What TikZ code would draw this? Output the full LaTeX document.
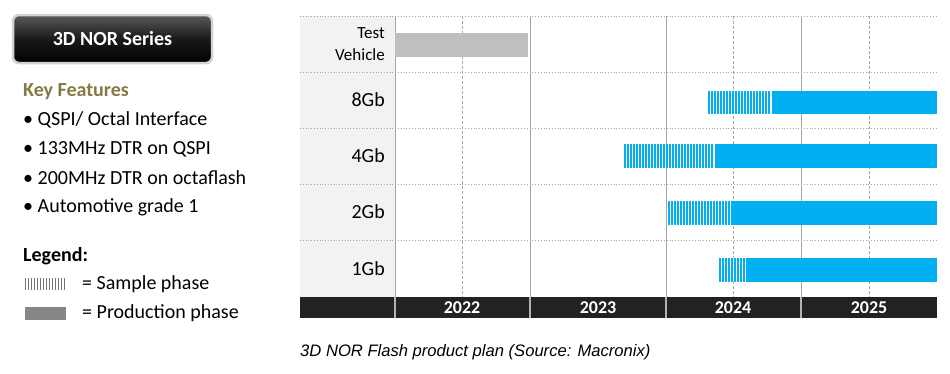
\documentclass[tikz,border=0pt]{standalone}
\usepackage{fontspec}
\setmainfont{Carlito}
\newfontfamily\capfont{Liberation Sans}
\definecolor{nblue}{HTML}{00B0F0}
\definecolor{keyol}{HTML}{857A45}
\definecolor{gridg}{HTML}{A6A6A6}
\definecolor{labbg}{HTML}{F2F2F2}
\definecolor{barblk}{HTML}{222222}
\tikzset{
  gridh/.style={draw=gridg, line width=0.8pt, dotted},
  gridv/.style={draw=gridg, line width=1pt},
  gridd/.style={draw=gridg, line width=0.7pt, dash pattern=on 3pt off 2pt},
  rowlab/.style={anchor=east, font=\fontsize{20}{22}\selectfont, inner sep=0pt},
  yearlab/.style={font=\bfseries\fontsize{18}{20}\selectfont, text=white, inner sep=0pt},
  feat/.style={anchor=west, font=\fontsize{20}{22}\selectfont, inner sep=0pt},
  prodbar/.style={fill=nblue, draw=none},
}
\newcommand{\samplebar}[4]{%
  \fill[white] (#1,#3) rectangle (#2,#4);
  \foreach \xx in {#1,\the\numexpr#1+3\relax,...,#2}{%
    \draw[nblue, line width=1.7pt] (\xx+0.85,#3) -- (\xx+0.85,#4);
  }%
}
\begin{document}
\begin{tikzpicture}[x=1pt,y=-1pt]
\useasboundingbox (0,0) rectangle (950,373);
% ---------- left panel ----------
\node[draw=gray!35, line width=2.5pt, rounded corners=6pt, top color=black!65, bottom color=black, middle color=black!90,
      minimum width=199pt, minimum height=48pt, inner sep=0pt] (title) at (112.5,39)
      {\textcolor{white}{\bfseries\fontsize{20}{22}\selectfont 3D NOR Series}};
\node[anchor=west, inner sep=0pt, text=keyol, font=\bfseries\fontsize{20}{22}\selectfont] (kf) at (23,92) {Key Features};
\node[feat] (f1) at (23,120) {\textbullet\ QSPI/ Octal Interface};
\node[feat] (f2) at (23,149) {\textbullet\ 133MHz DTR on QSPI};
\node[feat] (f3) at (23,178) {\textbullet\ 200MHz DTR on octaflash};
\node[feat] (f4) at (23,207) {\textbullet\ Automotive grade 1};
\node[anchor=west, inner sep=0pt, font=\bfseries\fontsize{20}{22}\selectfont] (leg) at (23,256) {Legend:};
\foreach \xx in {25,28,...,66}{\draw[gray!90!black, line width=0.9pt] (\xx,278) -- (\xx,290);}
\node[feat] (ls) at (82,284) {= Sample phase};
\fill[gray!95] (25,307) rectangle (66,320);
\node[feat] (lp) at (82,313.5) {= Production phase};
% ---------- chart ----------
\fill[labbg] (300,16) rectangle (395,297);
\foreach \yy in {16,72,128,184,240}{\draw[gridh] (300,\yy) -- (937,\yy);}
\foreach \xx in {462,733,869}{\draw[gridd] (\xx,16) -- (\xx,297);}
\foreach \xx in {395,530,666,801}{\draw[gridv] (\xx,16) -- (\xx,297);}
% bars
\fill[gray!50] (395,33) rectangle (528,57);
\samplebar{708}{770}{91}{114}
\fill[prodbar] (772,91) rectangle (937,114);
\samplebar{624}{713}{144}{168}
\fill[prodbar] (715,144) rectangle (937,168);
\samplebar{668}{729}{201}{225}
\fill[prodbar] (731,201) rectangle (937,225);
\samplebar{719}{746}{258}{282}
\fill[prodbar] (748,258) rectangle (937,282);
% row labels
\node[rowlab, align=right, font=\fontsize{17}{22}\selectfont] (tv) at (385,44) {Test\\Vehicle};
\node[rowlab] (r8) at (385,100) {8Gb};
\node[rowlab] (r4) at (385,156) {4Gb};
\node[rowlab] (r2) at (385,212) {2Gb};
\node[rowlab] (r1) at (385,269) {1Gb};
% year bar
\fill[barblk] (300,297) rectangle (937,318);
\foreach \xx in {395,530,666,801}{\draw[gray!60, line width=1.2pt] (\xx,297) -- (\xx,318);}
\node[yearlab] (y22) at (462,308) {2022};
\node[yearlab] (y23) at (598,308) {2023};
\node[yearlab] (y24) at (733,308) {2024};
\node[yearlab] (y25) at (869,308) {2025};
% caption
\node[anchor=west, inner sep=0pt, font=\capfont\itshape\fontsize{16.6}{18}\selectfont] (cap) at (300,352)
  {3D NOR Flash product plan (Source: Macronix)};
\end{tikzpicture}
\end{document}
